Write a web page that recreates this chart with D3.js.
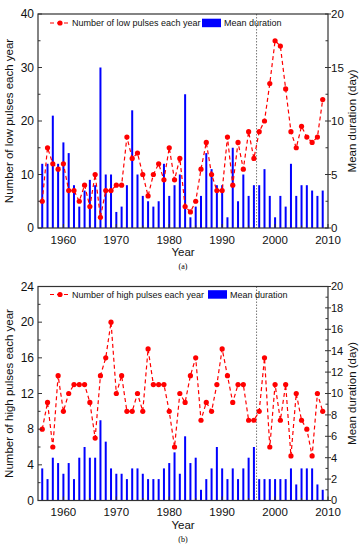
<!DOCTYPE html>
<html>
<head>
<meta charset="utf-8">
<script src="https://cdn.jsdelivr.net/npm/d3@7"></script>
<style>
  body { margin: 0; background: #fff; }
  svg { font-family: Arial, 'Liberation Sans', sans-serif; }
  .frame { fill: none; stroke: #333; stroke-width: 1.2; }
  .tick-label { font-size: 12px; fill: #111; }
  .axis-title { font-size: 11.5px; fill: #111; }
  .legend-text { font-size: 9px; fill: #111; }
</style>
</head>
<body>
<svg id="chart" width="361" height="550"></svg>
<script>
const years = [1956, 1957, 1958, 1959, 1960, 1961, 1962, 1963, 1964, 1965,
  1966, 1967, 1968, 1969, 1970, 1971, 1972, 1973, 1974, 1975,
  1976, 1977, 1978, 1979, 1980, 1981, 1982, 1983, 1984, 1985,
  1986, 1987, 1988, 1989, 1990, 1991, 1992, 1993, 1994, 1995,
  1996, 1997, 1998, 1999, 2000, 2001, 2002, 2003, 2004, 2005,
  2006, 2007, 2008, 2009]

// (a) low pulses
const lowPulses = [5, 15, 12, 11, 12, 7, 7, 5, 8, 4,
  10, 2, 7, 7, 8, 8, 17, 13, 14, 10,
  6, 10, 12, 9, 15, 9, 13, 4, 3, 5,
  11, 16, 10, 7, 7, 17, 8, 16, 11, 18,
  13, 18, 20, 27, 35, 34, 26, 18, 15, 19,
  17, 16, 17, 24]
const lowDuration = [6, 6, 10.5, 6, 8, 7, 4, 2, 3.5, 4.5,
  4, 15, 5, 5, 1.5, 2, 4, 11, 5, 3,
  2.5, 2, 2.5, 6, 3, 4, 5, 12.5, 1, 2,
  3, 7, 5.5, 4, 4, 1, 7.5, 2.5, 5, 3,
  4, 4, 5.5, 3, 1, 3, 2, 6, 3, 4,
  4, 3.5, 3, 3.5]

// (b) high pulses
const highPulses = [8, 11, 6, 14, 10, 12, 13, 13, 13, 11,
  7, 14, 16, 20, 12, 14, 10, 10, 12, 10,
  17, 13, 13, 13, 10, 6, 12, 11, 14, 16,
  9, 11, 10, 13, 17, 14, 11, 13, 13, 9,
  9, 10, 16, 6, 13, 9, 13, 5, 12, 9,
  8, 5, 12, 10]
const highDuration = [3, 2, 4, 3.5, 2.5, 3.5, 2, 4, 5, 4,
  4, 7.5, 5.5, 3, 2.5, 2.5, 2, 3, 3, 2.5,
  2, 2, 2, 3, 3.5, 4.5, 2.5, 6, 3.5, 4,
  1, 2, 3, 5, 3, 2, 3, 2, 3, 4,
  5, 2, 2, 2, 2, 2, 2, 3, 1.5, 3,
  3, 3, 1.5, 1]

const xTicks = [1960, 1970, 1980, 1990, 2000, 2010]
const splitYear = 1996.5

const svg = d3.select('#chart')
const left = 38
const right = 328

const x = d3.scaleLinear().domain([1955.2, 2010]).range([left, right])

function panel(cfg) {
  const g = svg.append('g')
  const yL = d3.scaleLinear().domain([0, cfg.leftMax]).range([cfg.bottom, cfg.top])
  const yR = d3.scaleLinear().domain([0, 20]).range([cfg.bottom, cfg.top])

  // bars (mean duration, right axis)
  g.selectAll('rect.bar')
    .data(years)
    .enter()
    .append('rect')
    .attr('class', 'bar')
    .attr('x', (d) => x(d) - 1)
    .attr('width', 2)
    .attr('y', (d, i) => yR(cfg.duration[i]))
    .attr('height', (d, i) => cfg.bottom - yR(cfg.duration[i]))
    .attr('fill', '#0000ff')

  // split line
  g.append('line')
    .attr('x1', x(splitYear))
    .attr('x2', x(splitYear))
    .attr('y1', cfg.top)
    .attr('y2', cfg.bottom)
    .attr('stroke', '#555')
    .attr('stroke-width', 0.8)
    .attr('stroke-dasharray', '1.5,1.5')

  const line = d3.line()
    .x((d) => x(d[0]))
    .y((d) => yL(d[1]))
  const pts = years.map((yr, i) => [yr, cfg.pulses[i]])

  g.append('path')
    .datum(pts)
    .attr('d', line)
    .attr('fill', 'none')
    .attr('stroke', '#ff0000')
    .attr('stroke-width', 1.2)
    .attr('stroke-dasharray', '4,3')

  g.selectAll('circle.pt')
    .data(pts)
    .enter()
    .append('circle')
    .attr('class', 'pt')
    .attr('cx', (d) => x(d[0]))
    .attr('cy', (d) => yL(d[1]))
    .attr('r', 2.6)
    .attr('fill', '#ff0000')

  // frame
  g.append('rect')
    .attr('class', 'frame')
    .attr('x', left)
    .attr('y', cfg.top)
    .attr('width', right - left)
    .attr('height', cfg.bottom - cfg.top)

  // left ticks (inside)
  const lMinor = d3.range(0, cfg.leftMax + 0.01, cfg.leftStep / 2)
  g.selectAll('line.lt')
    .data(lMinor)
    .enter()
    .append('line')
    .attr('x1', left)
    .attr('x2', (d, i) => left + (i % 2 === 0 ? 4 : 2.5))
    .attr('y1', (d) => yL(d))
    .attr('y2', (d) => yL(d))
    .attr('stroke', '#333')
  g.selectAll('text.ll')
    .data(d3.range(0, cfg.leftMax + 0.01, cfg.leftStep))
    .enter()
    .append('text')
    .attr('class', 'tick-label')
    .attr('x', left - 4)
    .attr('y', (d) => yL(d))
    .attr('dy', '0.35em')
    .attr('text-anchor', 'end')
    .text((d) => d)

  // right ticks
  const rMinor = d3.range(0, 20.01, cfg.rightStep / 2)
  g.selectAll('line.rt')
    .data(rMinor)
    .enter()
    .append('line')
    .attr('x1', (d, i) => right - (i % 2 === 0 ? 3 : 2.5))
    .attr('x2', (d, i) => right + (i % 2 === 0 ? 3 : 0))
    .attr('y1', (d) => yR(d))
    .attr('y2', (d) => yR(d))
    .attr('stroke', '#333')
  g.selectAll('text.rl')
    .data(d3.range(0, 20.01, cfg.rightStep))
    .enter()
    .append('text')
    .attr('class', 'tick-label')
    .attr('x', right + 3)
    .attr('y', (d) => yR(d))
    .attr('dy', '0.35em')
    .style('font-size', cfg.rightFont)
    .text((d) => d)

  // bottom ticks
  g.selectAll('line.bt')
    .data(d3.range(1960, 2010.01, 5))
    .enter()
    .append('line')
    .attr('x1', (d) => x(d))
    .attr('x2', (d) => x(d))
    .attr('y1', cfg.bottom)
    .attr('y2', (d) => cfg.bottom - (d % 10 === 0 ? 4 : 2.5))
    .attr('stroke', '#333')
  g.selectAll('text.bl')
    .data(xTicks)
    .enter()
    .append('text')
    .attr('class', 'tick-label')
    .attr('x', (d) => x(d))
    .attr('y', cfg.bottom + 15.5)
    .attr('text-anchor', 'middle')
    .style('font-size', '11.5px')
    .text((d) => d)

  g.append('text')
    .attr('class', 'axis-title')
    .attr('x', (left + right) / 2)
    .attr('y', cfg.bottom + 28)
    .attr('text-anchor', 'middle')
    .text('Year')

  const midY = (cfg.top + cfg.bottom) / 2
  g.append('text')
    .attr('class', 'axis-title')
    .attr('transform', `translate(13,${midY}) rotate(-90)`)
    .attr('text-anchor', 'middle')
    .text(cfg.leftTitle)
  g.append('text')
    .attr('class', 'axis-title')
    .attr('transform', `translate(356,${midY}) rotate(-90)`)
    .attr('text-anchor', 'middle')
    .text('Mean duration (day)')

  // legend
  const ly = cfg.top + cfg.legendDy
  g.append('line')
    .attr('x1', 50).attr('x2', 68)
    .attr('y1', ly).attr('y2', ly)
    .attr('stroke', '#ff0000')
    .attr('stroke-width', 1.2)
    .attr('stroke-dasharray', '4,3')
  g.append('circle')
    .attr('cx', 60).attr('cy', ly).attr('r', 2.6)
    .attr('fill', '#ff0000')
  g.append('text')
    .attr('class', 'legend-text')
    .attr('x', 72).attr('y', ly).attr('dy', '0.35em')
    .text(cfg.legendText)
  g.append('rect')
    .attr('x', cfg.boxX).attr('y', ly - 4.3)
    .attr('width', 19).attr('height', 8.5)
    .attr('fill', '#0000ff')
  g.append('text')
    .attr('class', 'legend-text')
    .attr('x', cfg.boxX + 22).attr('y', ly).attr('dy', '0.35em')
    .text('Mean duration')

  g.append('text')
    .attr('x', (left + right) / 2)
    .attr('y', cfg.bottom + 41)
    .attr('text-anchor', 'middle')
    .style('font-family', "'Liberation Serif', serif")
    .style('font-size', '8px')
    .text(cfg.tag)
}

panel({
  top: 14, bottom: 228, leftMax: 40, leftStep: 10, rightStep: 5, rightFont: '11.5px',
  pulses: lowPulses, duration: lowDuration,
  leftTitle: 'Number of low pulses each year',
  legendText: 'Number of low pulses each year', legendDy: 9, boxX: 202, tag: '(a)'
})

panel({
  top: 286.5, bottom: 500.5, leftMax: 24, leftStep: 4, rightStep: 2, rightFont: '11px',
  pulses: highPulses, duration: highDuration,
  leftTitle: 'Number of high pulses each year',
  legendText: 'Number of high pulses each year', legendDy: 8, boxX: 208, tag: '(b)'
})
</script>
</body>
</html>
